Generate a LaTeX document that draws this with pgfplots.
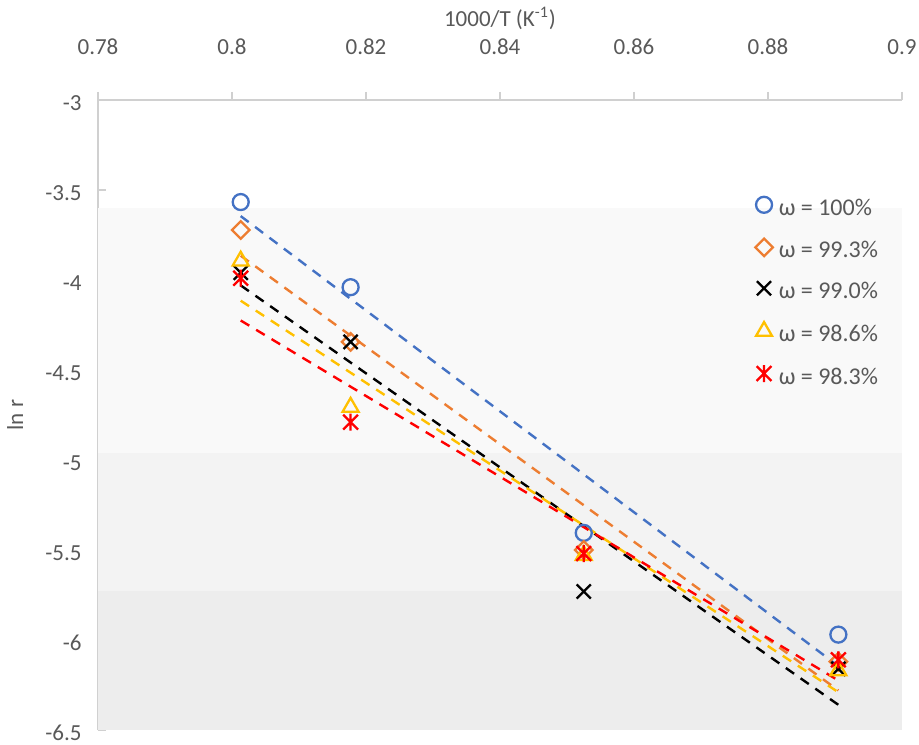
\documentclass[border=0pt]{standalone}
\usepackage{fontspec}
\setmainfont{Carlito}
\usepackage{pgfplots}
\pgfplotsset{compat=1.18}
\definecolor{tgray}{HTML}{595959}
\definecolor{agray}{HTML}{D0D0D0}
\definecolor{bandA}{HTML}{F9F9F9}
\definecolor{bandB}{HTML}{F3F3F3}
\definecolor{bandC}{HTML}{EDEDED}
\definecolor{cblue}{HTML}{4472C4}
\definecolor{corange}{HTML}{ED7D31}
\definecolor{cyellow}{HTML}{FFC000}
\definecolor{cred}{HTML}{FF0000}
\pgfdeclareplotmark{xstar}{%
  \pgfpathmoveto{\pgfqpoint{-\pgfplotmarksize}{-\pgfplotmarksize}}%
  \pgfpathlineto{\pgfqpoint{\pgfplotmarksize}{\pgfplotmarksize}}%
  \pgfpathmoveto{\pgfqpoint{-\pgfplotmarksize}{\pgfplotmarksize}}%
  \pgfpathlineto{\pgfqpoint{\pgfplotmarksize}{-\pgfplotmarksize}}%
  \pgfpathmoveto{\pgfqpoint{0pt}{-1.15\pgfplotmarksize}}%
  \pgfpathlineto{\pgfqpoint{0pt}{1.15\pgfplotmarksize}}%
  \pgfusepathqstroke}
\begin{document}
\begin{tikzpicture}
\path[use as bounding box] (-49pt,-7pt) rectangle (410.5pt,365pt);
\begin{axis}[
  at={(0,0)}, anchor=south west,
  scale only axis, width=402pt, height=315pt,
  xmin=0.78, xmax=0.9, ymin=-6.5, ymax=-3,
  axis x line*=top, axis y line*=left,
  x axis line style={-}, y axis line style={-},
  axis line style={draw=agray, line width=0.9pt},
  xtick={0.78,0.8,0.82,0.84,0.86,0.88,0.9},
  xticklabels={0.78,0.8,0.82,0.84,0.86,0.88,0.9},
  ytick={-6.5,-6,-5.5,-5,-4.5,-4,-3.5,-3},
  yticklabels={-6.5,-6,-5.5,-5,-4.5,-4,-3.5,-3},
  major tick length=4pt,
  tick style={draw=agray, line width=0.9pt},
  xtick style={yshift=4pt},
  xticklabel style={anchor=center, yshift=26.5pt, text=tgray, font=\fontsize{11.5}{13}\selectfont},
  yticklabel style={anchor=east, inner sep=0pt, xshift=-8pt, yshift=-1.5pt, text=tgray, font=\fontsize{11.5}{13}\selectfont},
  xlabel={1000/T (K\textsuperscript{-1})},
  xlabel style={at={(axis description cs:0.5,1.13)}, anchor=center, text=tgray, font=\fontsize{11.5}{13}\selectfont},
  ylabel={ln r},
  ylabel style={at={(axis description cs:-0.1032,0.5)}, anchor=center, rotate=0, text=tgray, font=\fontsize{11.5}{13}\selectfont},
  legend style={at={(0.817,0.847)}, anchor=north west, draw=none, fill=none, inner sep=0pt,
    row sep=9.2pt, column sep=3pt, font=\fontsize{12}{14}\selectfont, text=tgray,
    nodes={inner sep=0pt, text height=8.6pt, text depth=2.4pt}},
  legend cell align=left,
  legend image code/.code={\draw[#1] plot coordinates {(0pt,0.22em)};},
]
% background bands
\addplot[draw=none, fill=bandA, mark=none, forget plot] coordinates {(0.78,-3.6) (0.9,-3.6) (0.9,-4.96) (0.78,-4.96)};
\addplot[draw=none, fill=bandB, mark=none, forget plot] coordinates {(0.78,-4.96) (0.9,-4.96) (0.9,-5.73) (0.78,-5.73)};
\addplot[draw=none, fill=bandC, mark=none, forget plot] coordinates {(0.78,-5.73) (0.9,-5.73) (0.9,-6.5) (0.78,-6.5)};
% data
\addplot[cblue, only marks, mark=o, mark size=4pt, line width=1.15pt] coordinates {(0.8013,-3.567) (0.8177,-4.04) (0.8525,-5.405) (0.8905,-5.97)};
\addlegendentry{ω = 100\%}
\addplot[corange, only marks, mark=square, mark size=3.1pt, mark options={rotate=45}, line width=1.15pt] coordinates {(0.8013,-3.722) (0.8177,-4.344) (0.8525,-5.5) (0.8905,-6.12)};
\addlegendentry{ω = 99.3\%}
\addplot[black, only marks, mark=x, mark size=5pt, line width=1.15pt] coordinates {(0.8013,-3.96) (0.8177,-4.344) (0.8525,-5.73) (0.8905,-6.16)};
\addlegendentry{ω = 99.0\%}
\addplot[cyellow, only marks, mark=triangle, mark size=4.6pt, line width=1.15pt] coordinates {(0.8013,-3.894) (0.8177,-4.706) (0.8525,-5.53) (0.8905,-6.17)};
\addlegendentry{ω = 98.6\%}
\addplot[cred, only marks, mark=xstar, mark size=3.7pt, line width=1.15pt] coordinates {(0.8013,-3.99) (0.8177,-4.79) (0.8525,-5.52) (0.8905,-6.11)};
\addlegendentry{ω = 98.3\%}
% linear trend lines
\addplot[cblue, mark=none, line width=1.2pt, dash pattern=on 5pt off 4pt, forget plot] coordinates {(0.8013,-3.645) (0.8905,-6.145)};
\addplot[corange, mark=none, line width=1.2pt, dash pattern=on 5pt off 4pt, forget plot] coordinates {(0.8013,-3.865) (0.8905,-6.28)};
\addplot[black, mark=none, line width=1.2pt, dash pattern=on 5pt off 4pt, forget plot] coordinates {(0.8013,-4.03) (0.8905,-6.36)};
\addplot[cyellow, mark=none, line width=1.2pt, dash pattern=on 5pt off 4pt, forget plot] coordinates {(0.8013,-4.115) (0.8905,-6.29)};
\addplot[cred, mark=none, line width=1.2pt, dash pattern=on 5pt off 4pt, forget plot] coordinates {(0.8013,-4.225) (0.8905,-6.225)};
\end{axis}
\end{tikzpicture}
\end{document}
